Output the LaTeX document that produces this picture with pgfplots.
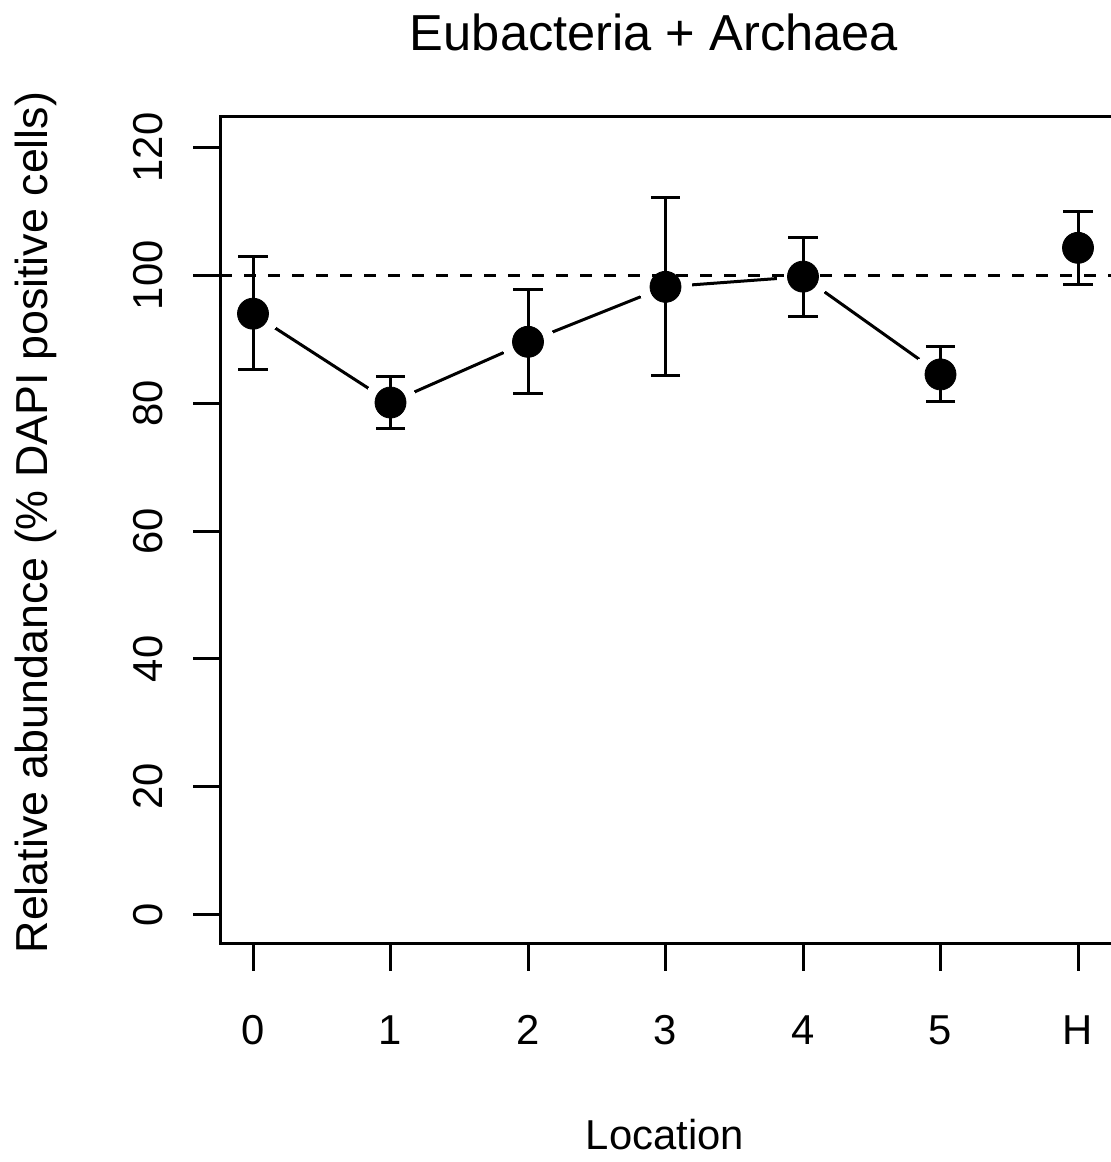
\documentclass[border=0pt]{standalone}
\usepackage{pgfplots}
\usepackage{pgfplotstable}
\pgfplotsset{compat=1.18}
\usepackage{fontspec}
\setmainfont{Liberation Sans}

% location, mean, upper and lower error
\pgfplotstableread{
x   y      ep    em
0   94.0   8.9   8.7
1   80.1   4.0   4.0
2   89.6   8.2   8.1
3   98.2   13.9  13.8
4   99.8   6.1   6.2
5   84.5   4.3   4.3
6   104.3  5.7   5.7
}\abund

\begin{document}
\begin{tikzpicture}[x=1pt,y=1pt]
\path[use as bounding box] (0,0) rectangle (555,581);
\begin{axis}[
  clip marker paths=true,
  at={(110pt,109pt)}, anchor=south west,
  scale only axis, width=446.5pt, height=413.6pt,
  xmin=-0.24, xmax=6.2545, ymin=-4.6, ymax=124.8,
  axis line style={line width=1.5pt},
  xtick={0,...,6}, xticklabels={0,1,2,3,4,5,H},
  ytick={0,20,...,120},
  tick pos=left, tick align=outside, major tick length=13.5pt,
  tick style={line width=1.5pt, black},
  ticklabel style={font=\fontsize{20.9}{24}\selectfont},
  xticklabel style={anchor=center, yshift=-29.5pt},
  yticklabel style={xshift=-22.5pt, rotate=90, anchor=center},
  /pgf/number format/assume math mode=true,
]
% connecting line, locations 0-5 only
\addplot[line width=1.5pt, black, skip coords between index={6}{7}] table[x=x, y=y] {\abund};
% white gaps around the points
\addplot[white, only marks, mark=*, mark size=13pt, mark options={fill=white, draw=white, line width=0pt}] table[x=x, y=y] {\abund};
% reference line at 100
\addplot[line width=1.5pt, black, dash pattern=on 6pt off 6pt] coordinates {(-0.24,100) (6.6,100)};
\addplot[black, only marks, mark=*, mark size=7.75pt, mark options={fill=black, draw=none},
  error bars/.cd, y dir=both, y explicit, error mark=|,
  error mark options={mark size=7.3pt, line width=1.5pt, black},
  error bar style={line width=1.5pt, black}]
  table[x=x, y=y, y error plus=ep, y error minus=em] {\abund};
\end{axis}
\node[font=\fontsize{25.3}{30}\selectfont] at (327,565) {Eubacteria + Archaea};
\node[font=\fontsize{20.9}{24}\selectfont] at (332.5,13.5) {Location};
\node[font=\fontsize{22.4}{26}\selectfont, rotate=90, anchor=base] at (24,319.75) {Relative abundance (\% DAPI positive cells)};
\end{tikzpicture}
\end{document}
